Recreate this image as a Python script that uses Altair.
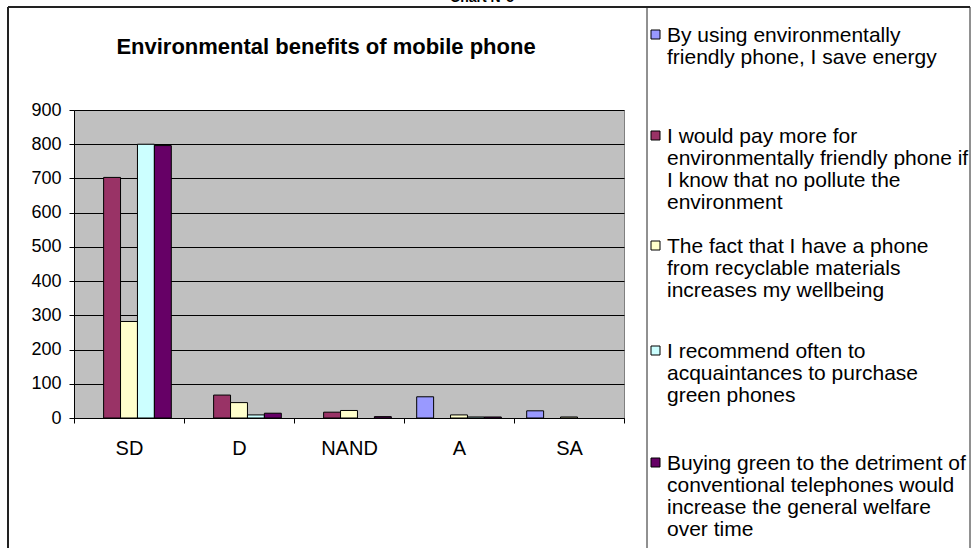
import altair as alt
import pandas as pd

# ---------------- data ----------------
categories = ["SD", "D", "NAND", "A", "SA"]

legend_lines = [
    ["By using environmentally", "friendly phone, I save energy"],
    ["I would pay more for", "environmentally friendly phone if", "I know that no pollute the", "environment"],
    ["The fact that I have a phone", "from recyclable materials", "increases my wellbeing"],
    ["I recommend often to", "acquaintances to purchase", "green phones"],
    ["Buying green to the detriment of", "conventional telephones would", "increase the general welfare", "over time"],
]
series = [" ".join(l) for l in legend_lines]

save_energy = [0, 0, 0, 62, 21]
pay_more = [703, 67, 17, 0, 0]
recyclable = [282, 45, 22, 9, 3]
recommend = [800, 9, 0, 3, 0]
buying_green = [796, 14, 4, 3, 0]
values = [save_energy, pay_more, recyclable, recommend, buying_green]

colors = ["#9999FF", "#993366", "#FFFFCC", "#CCFFFF", "#660066"]

rows = []
for s, vals in zip(series, values):
    for c, v in zip(categories, vals):
        rows.append({"cat": c, "series": s, "value": v})
df = pd.DataFrame(rows)

FONT = "Liberation Sans"
color_scale = alt.Scale(domain=series, range=colors)

# ---------------- layout (pixels, relative to plot origin) ----------------
W, H = 550, 308
PAD_L, PAD_T = 74, 110

bars = alt.Chart(df).transform_filter("datum.value > 0").mark_bar(stroke="black", strokeWidth=1).encode(
    x=alt.X("cat:N", sort=categories, title=None,
            scale=alt.Scale(domain=categories, paddingInner=0, paddingOuter=0),
            axis=alt.Axis(tickBand="extent", labelAngle=0, labelFontSize=20, labelFont=FONT,
                          labelColor="black", domainColor="black", tickColor="black",
                          tickSize=5, labelPadding=15, grid=False)),
    xOffset=alt.XOffset("series:N", sort=series,
                        scale=alt.Scale(domain=series, paddingInner=0, paddingOuter=0.75)),
    y=alt.Y("value:Q", title=None,
            scale=alt.Scale(domain=[0, 900], nice=False),
            axis=alt.Axis(values=list(range(0, 1000, 100)), labelFontSize=18, labelFont=FONT,
                          labelColor="black", domainColor="black", tickColor="black",
                          tickSize=5, labelPadding=8, grid=True, gridColor="black",
                          gridOpacity=1, gridWidth=1)),
    color=alt.Color("series:N", sort=series, scale=color_scale, legend=None),
)

title = alt.Chart(pd.DataFrame({"t": ["Environmental benefits of mobile phone"]})).mark_text(
    font=FONT, fontSize=22, fontWeight="bold", color="black", align="center", baseline="middle"
).encode(text="t:N", x=alt.value(326 - PAD_L), y=alt.value(47 - PAD_T))

top_title = alt.Chart(pd.DataFrame({"t": ["Chart N°5"]})).mark_text(
    font=FONT, fontSize=14, fontWeight="bold", color="black", align="center", baseline="alphabetic"
).encode(text="t:N", x=alt.value(482 - PAD_L), y=alt.value(2 - PAD_T))

frame_df = pd.DataFrame({"k": [0]})
frame = [
    alt.Chart(frame_df).mark_rule(color="#222222", strokeWidth=2).encode(
        x=alt.value(8 - PAD_L), x2=alt.value(970 - PAD_L), y=alt.value(7 - PAD_T)),
    alt.Chart(frame_df).mark_rule(color="#222222", strokeWidth=2).encode(
        x=alt.value(8 - PAD_L), y=alt.value(7 - PAD_T), y2=alt.value(560 - PAD_T)),
    alt.Chart(frame_df).mark_rule(color="#222222", strokeWidth=1).encode(
        x=alt.value(647 - PAD_L), y=alt.value(7 - PAD_T), y2=alt.value(560 - PAD_T)),
    alt.Chart(frame_df).mark_rule(color="#222222", strokeWidth=1).encode(
        x=alt.value(970 - PAD_L), y=alt.value(7 - PAD_T), y2=alt.value(560 - PAD_T)),
]

# legend (manual, to reproduce Excel's spacing)
legend_first_line = [35, 136, 246, 351, 463]
legend_layers = []
for s, lines, yc in zip(series, legend_lines, legend_first_line):
    d = pd.DataFrame({"series": [s], "label": ["\n".join(lines)]})
    legend_layers.append(
        alt.Chart(d).mark_rect(stroke="black", strokeWidth=1).encode(
            x=alt.value(651 - PAD_L), x2=alt.value(660 - PAD_L),
            y=alt.value(yc - 5 - PAD_T), y2=alt.value(yc + 4 - PAD_T),
            color=alt.Color("series:N", sort=series, scale=color_scale, legend=None))
    )
    legend_layers.append(
        alt.Chart(d).mark_text(font=FONT, fontSize=21, color="black", align="left",
                               baseline="alphabetic", lineBreak="\n", lineHeight=22).encode(
            text="label:N", x=alt.value(667 - PAD_L), y=alt.value(yc + 7 - PAD_T))
    )

chart = alt.layer(bars, title, top_title, *frame, *legend_layers).properties(
    width=W, height=H,
    padding={"left": PAD_L, "top": PAD_T, "right": 980 - PAD_L - W, "bottom": 548 - PAD_T - H},
    autosize=alt.AutoSizeParams(type="none"),
    background="white",
).configure_view(fill="#C0C0C0", stroke="#808080", strokeWidth=1)

chart.save("out.html", embed_options={"renderer": "svg", "actions": False})
